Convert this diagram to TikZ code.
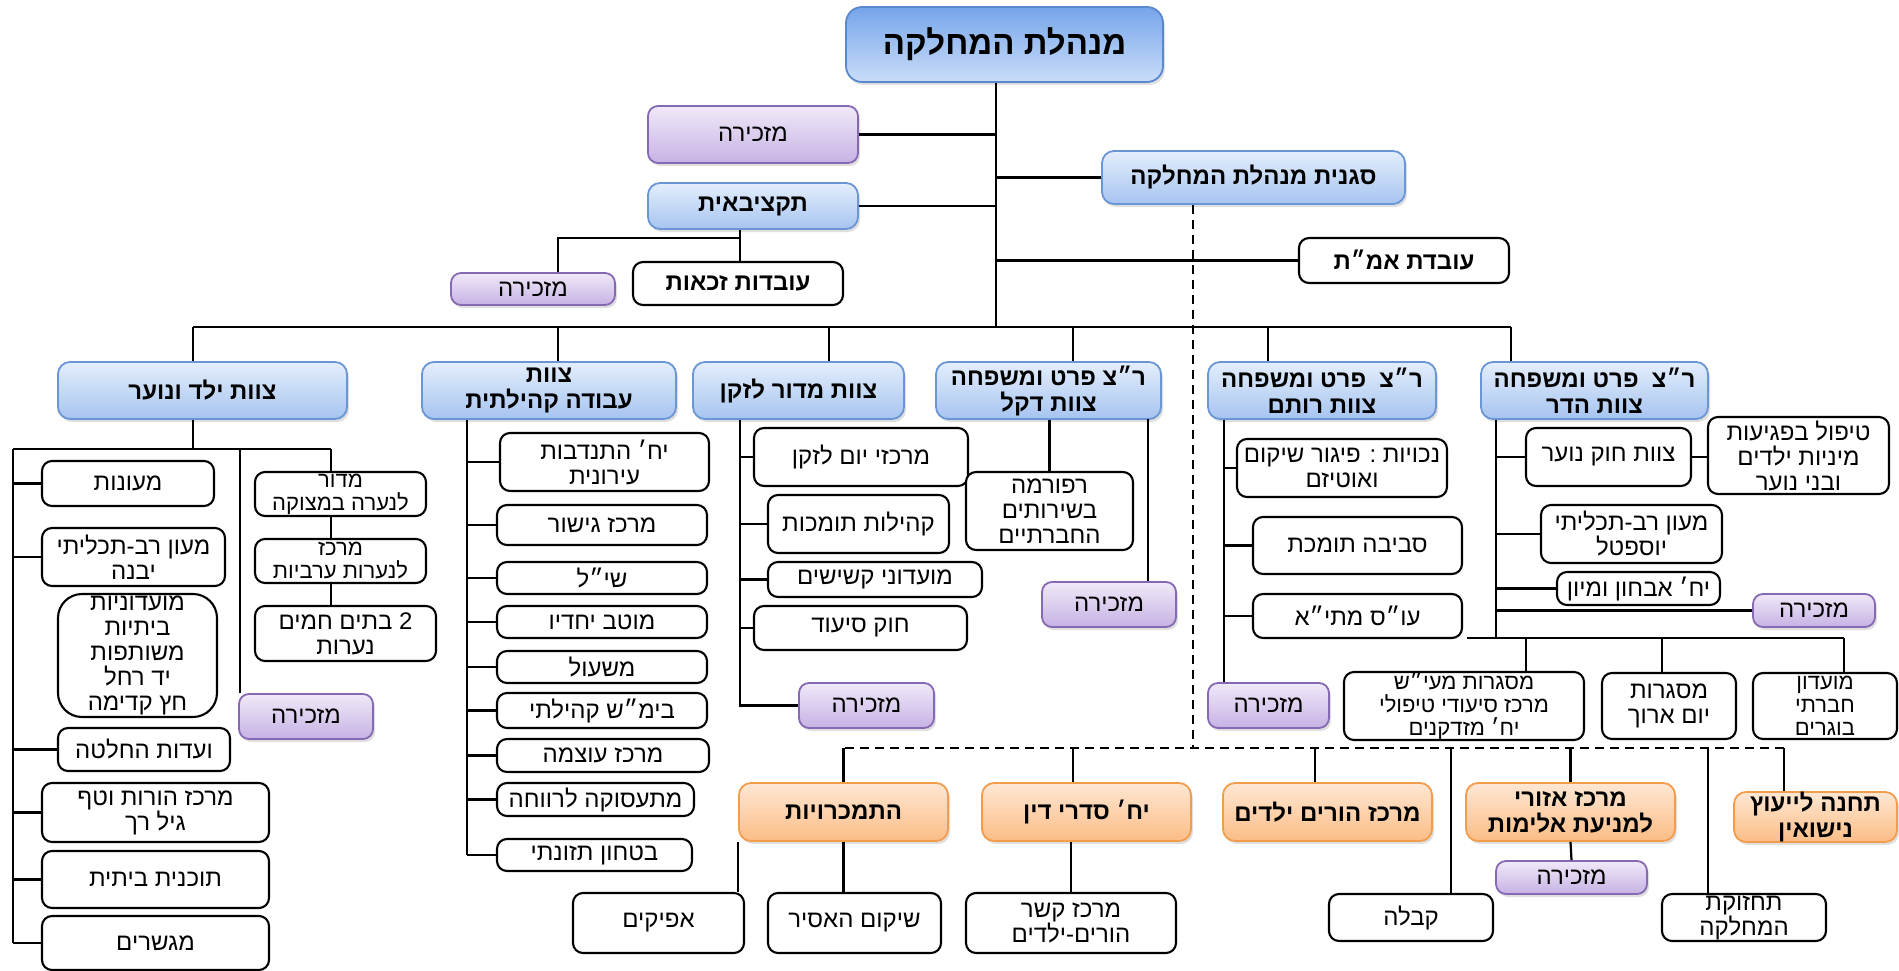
\documentclass[tikz,border=0pt]{standalone}
\usepackage{fontspec}
\setmainfont{Liberation Sans}[Script=Hebrew]
\TeXXeTstate=1
\usetikzlibrary{shadows}
\definecolor{topA}{HTML}{76A5EA}
\definecolor{topB}{HTML}{CADDF8}
\definecolor{topE}{HTML}{5A88CF}
\definecolor{bluA}{HTML}{E4EEFC}
\definecolor{bluB}{HTML}{A6C4F0}
\definecolor{bluE}{HTML}{6A96D6}
\definecolor{purA}{HTML}{F0E9F8}
\definecolor{purB}{HTML}{C6B2E4}
\definecolor{purE}{HTML}{8669B3}
\definecolor{orgA}{HTML}{FEE7D3}
\definecolor{orgB}{HTML}{FBBD86}
\definecolor{orgE}{HTML}{F29C4E}
\newcommand\heb[1]{\beginR #1\endR}
\newcommand\bx[7]{\node[#2, minimum width={#5-#3}, minimum height={#6-#4}] (#1) at ({(#3+#5)/2},{(#4+#6)/2}) {#7};}
\tikzset{
  basebox/.style={align=center, inner sep=0pt, font=\fontsize{24}{25}\selectfont},
  wbox/.style={basebox, draw=black, line width=2.1pt, rounded corners=10pt, fill=white},
  wboxb/.style={wbox, font=\fontsize{24}{25}\selectfont\bfseries},
  shad/.style={drop shadow={shadow xshift=2pt, shadow yshift=-3pt, opacity=0.25}},
  bbox/.style={basebox, shad, draw=bluE, line width=1.8pt, rounded corners=12pt, top color=bluA, bottom color=bluB, font=\fontsize{24}{26}\selectfont\bfseries},
  topbox/.style={bbox, draw=topE, top color=topA, bottom color=topB, rounded corners=16pt, font=\fontsize{33}{35}\selectfont\bfseries},
  pbox/.style={basebox, shad, draw=purE, line width=1.8pt, rounded corners=10pt, top color=purA, bottom color=purB},
  obox/.style={basebox, shad, draw=orgE, line width=1.8pt, rounded corners=12pt, top color=orgA, bottom color=orgB, font=\fontsize{24}{26}\selectfont\bfseries},
  conn/.style={draw=black, line width=2.2pt},
  dconn/.style={draw=black, line width=2.2pt, dash pattern=on 9pt off 6pt},
  tight/.style={font=\fontsize{22}{23}\selectfont}
}
\begin{document}
\begin{tikzpicture}[x=1pt,y=-1pt]
\fill[white] (0,0) rectangle (1899,971);
\useasboundingbox (0,0) rectangle (1899,971);
% junction coordinates
\coordinate (bus) at (996,327);
\coordinate (busL) at (193,327);
\coordinate (busR) at (1511,327);
\coordinate (d2) at (558,327);
\coordinate (d3) at (829,327);
\coordinate (d4) at (1073,327);
\coordinate (d5) at (1268,327);
\coordinate (bj) at (740,238);
\coordinate (bjL) at (558,238);
\coordinate (dl) at (845,748);
\coordinate (dr) at (1784,748);
\coordinate (dv) at (1193,748);
\coordinate (kj) at (193,449);
\coordinate (kL) at (13,449);
\coordinate (kM) at (240,449);
\coordinate (kR) at (331,449);
\coordinate (cs) at (467,419);
\coordinate (es) at (740,419);
\coordinate (dB) at (1148,419);
\coordinate (rs) at (1224,419);
\coordinate (hs) at (1496,419);
\coordinate (hL) at (1467,638);
\coordinate (hR) at (1844,638);
\coordinate (hb1) at (1526,638);
\coordinate (hb2) at (1662,638);
\coordinate (q2) at (1073,748);
\coordinate (q3) at (1315,748);
\coordinate (q4) at (1451,748);
\coordinate (q5) at (1708,748);

% ---------- nodes ----------
\bx{top}{topbox}{846}{7}{1163}{82}{\heb{מנהלת המחלקה}}
\bx{sec1}{pbox}{648}{106}{858}{163}{\heb{מזכירה}}
\bx{budget}{bbox}{648}{183}{858}{229}{\heb{תקציבאית}}
\bx{elig}{wboxb}{633}{262}{843}{305}{\heb{עובדות זכאות}}
\bx{sec2}{pbox}{451}{273}{615}{305}{\heb{מזכירה}}
\bx{deputy}{bbox}{1102}{151}{1405}{204}{\heb{סגנית מנהלת המחלקה}}
\bx{amat}{wboxb}{1299}{238}{1509}{283}{\heb{עובדת אמ״ת}}

\bx{kids}{bbox}{58}{362}{347}{419}{\heb{צוות ילד ונוער}}
\bx{comm}{bbox}{422}{362}{676}{419}{\heb{צוות}\\\heb{עבודה קהילתית}}
\bx{elder}{bbox}{693}{362}{904}{419}{\heb{צוות מדור לזקן}}
\bx{dekel}{bbox}{936}{362}{1161}{419}{\heb{ר״צ פרט ומשפחה}\\\heb{צוות דקל}}
\bx{rotem}{bbox}{1208}{362}{1436}{419}{\heb{ר״צ~~פרט ומשפחה}\\\heb{צוות רותם}}
\bx{hadar}{bbox}{1481}{362}{1708}{419}{\heb{ר״צ~~פרט ומשפחה}\\\heb{צוות הדר}}

% child & youth
\bx{k1}{wbox}{42}{461}{214}{506}{\heb{מעונות}}
\bx{k2}{wbox}{42}{528}{225}{586}{\heb{מעון רב-תכליתי}\\\heb{יבנה}}
\bx{k3}{wbox,rounded corners=24pt}{58}{594}{217}{717}{\heb{מועדוניות}\\\heb{ביתיות}\\\heb{משותפות}\\\heb{יד רחל}\\\heb{חץ קדימה}}
\bx{k4}{wbox}{58}{728}{230}{771}{\heb{ועדות החלטה}}
\bx{k5}{wbox}{42}{783}{269}{842}{\heb{מרכז הורות וטף}\\\heb{גיל רך}}
\bx{k6}{wbox}{42}{851}{269}{908}{\heb{תוכנית ביתית}}
\bx{k7}{wbox}{42}{916}{269}{970}{\heb{מגשרים}}
\bx{m1}{wbox,tight}{255}{472}{426}{516}{\heb{מדור}\\\heb{לנערה במצוקה}}
\bx{m2}{wbox,tight}{255}{539}{426}{583}{\heb{מרכז}\\\heb{לנערות ערביות}}
\bx{m3}{wbox}{255}{606}{436}{661}{\heb{2 בתים חמים}\\\heb{נערות}}
\bx{ksec}{pbox}{239}{694}{373}{739}{\heb{מזכירה}}

% community work
\bx{c1}{wbox}{500}{433}{709}{491}{\heb{יח׳ התנדבות}\\\heb{עירונית}}
\bx{c2}{wbox}{497}{505}{707}{545}{\heb{מרכז גישור}}
\bx{c3}{wbox}{497}{562}{707}{594}{\heb{שי״ל}}
\bx{c4}{wbox}{497}{606}{707}{638}{\heb{מוטב יחדיו}}
\bx{c5}{wbox}{497}{651}{707}{683}{\heb{משעול}}
\bx{c6}{wbox}{497}{693}{707}{728}{\heb{בימ״ש קהילתי}}
\bx{c7}{wbox}{497}{739}{709}{772}{\heb{מרכז עוצמה}}
\bx{c8}{wbox}{497}{783}{694}{816}{\heb{מתעסוקה לרווחה}}
\bx{c9}{wbox}{497}{839}{692}{871}{\heb{בטחון תזונתי}}

% elderly
\bx{e1}{wbox}{754}{428}{968}{486}{\heb{מרכזי יום לזקן}}
\bx{e2}{wbox}{768}{495}{949}{553}{\heb{קהילות תומכות}}
\bx{e3}{wbox}{768}{562}{982}{597}{\heb{מועדוני קשישים}}
\bx{e4}{wbox}{754}{606}{967}{650}{\heb{חוק סיעוד}}
\bx{esec}{pbox}{799}{683}{934}{728}{\heb{מזכירה}}

% dekel
\bx{ref}{wbox}{966}{472}{1133}{550}{\heb{רפורמה}\\\heb{בשירותים}\\\heb{החברתיים}}
\bx{dsec}{pbox}{1042}{582}{1176}{627}{\heb{מזכירה}}

% rotem
\bx{r1}{wbox}{1237}{439}{1447}{497}{\heb{נכויות : פיגור שיקום}\\\heb{ואוטיזם}}
\bx{r2}{wbox}{1253}{517}{1462}{574}{\heb{סביבה תומכת}}
\bx{r3}{wbox}{1253}{594}{1462}{638}{\heb{עו״ס מתי״א}}
\bx{rsec}{pbox}{1208}{683}{1329}{728}{\heb{מזכירה}}

% hadar
\bx{h1}{wbox}{1526}{428}{1691}{486}{\heb{צוות חוק נוער}}
\bx{h1b}{wbox}{1708}{417}{1889}{494}{\heb{טיפול בפגיעות}\\\heb{מיניות ילדים}\\\heb{ובני נוער}}
\bx{h2}{wbox}{1541}{505}{1722}{563}{\heb{מעון רב-תכליתי}\\\heb{יוספטל}}
\bx{h3}{wbox}{1557}{572}{1720}{605}{\heb{יח׳ אבחון ומיון}}
\bx{hsec}{pbox}{1753}{594}{1875}{627}{\heb{מזכירה}}
\bx{b1}{wbox,tight}{1344}{673}{1584}{739}{\heb{מסגרות מעי״ש}\\\heb{מרכז סיעודי טיפולי}\\\heb{יח׳ מזדקנים}}
\bx{b2}{wbox}{1602}{673}{1736}{739}{\heb{מסגרות}\\\heb{יום ארוך}}
\bx{b3}{wbox,tight}{1753}{673}{1897}{739}{\heb{מועדון}\\\heb{חברתי}\\\heb{בוגרים}}

% bottom units
\bx{o1}{obox}{739}{783}{948}{841}{\heb{התמכרויות}}
\bx{o2}{obox}{982}{783}{1191}{841}{\heb{יח׳ סדרי דין}}
\bx{o3}{obox}{1223}{783}{1432}{841}{\heb{מרכז הורים ילדים}}
\bx{o4}{obox}{1466}{783}{1675}{841}{\heb{מרכז אזורי}\\\heb{למניעת אלימות}}
\bx{o5}{obox}{1734}{793}{1897}{841}{\heb{תחנה לייעוץ}\\\heb{נישואין}}
\bx{a1}{wbox}{573}{893}{744}{953}{\heb{אפיקים}}
\bx{a2}{wbox}{768}{893}{941}{953}{\heb{שיקום האסיר}}
\bx{a3}{wbox}{966}{893}{1176}{953}{\heb{מרכז קשר}\\\heb{הורים-ילדים}}
\bx{osec}{pbox}{1496}{861}{1647}{894}{\heb{מזכירה}}
\bx{a4}{wbox}{1329}{894}{1493}{941}{\heb{קבלה}}
\bx{a5}{wbox}{1662}{894}{1826}{941}{\heb{תחזוקת}\\\heb{המחלקה}}

% ---------- connectors ----------
\draw[conn] (top.south -| bus) -- (bus);
\draw[conn] (sec1.east) -- (sec1.east -| bus);
\draw[conn] (budget.east) -- (budget.east -| bus);
\draw[conn] (deputy.west) -- (deputy.west -| bus);
\draw[conn] (amat.west) -- (amat.west -| bus);
\draw[conn] (budget.south -| bj) -- (bj) -- (elig.north -| bj);
\draw[conn] (bj) -- (bjL) -- (bjL |- sec2.north);
\draw[dconn] (deputy.south -| dv) -- (dv);
\draw[dconn] (dl) -- (dr);
% level 2 bus
\draw[conn] (busL) -- (busR);
\draw[conn] (busL) -- (busL |- kids.north);
\draw[conn] (d2) -- (d2 |- comm.north);
\draw[conn] (d3) -- (d3 |- elder.north);
\draw[conn] (d4) -- (d4 |- dekel.north);
\draw[conn] (d5) -- (d5 |- rotem.north);
\draw[conn] (busR) -- (busR |- hadar.north);
% kids
\draw[conn] (kids.south -| kj) -- (kj);
\draw[conn] (kL) -- (kR);
\draw[conn] (kL) -- (kL |- k7.west);
\foreach \n in {k1,k2,k4,k5,k6,k7} \draw[conn] (\n.west -| kL) -- (\n.west);
\draw[conn] (kM) -- (kM |- ksec.north);
\draw[conn] (kR) -- (kR |- m1.north);
\draw[conn] (m1.south -| kR) -- (m2.north -| kR);
\draw[conn] (m2.south -| kR) -- (m3.north -| kR);
% community
\draw[conn] (comm.south -| cs) -- (cs |- c9.west);
\foreach \n in {c1,c2,c3,c4,c5,c6,c7,c8,c9} \draw[conn] (\n.west -| cs) -- (\n.west);
% elderly
\draw[conn] (elder.south -| es) -- (es |- esec.west) -- (esec.west);
\foreach \n in {e1,e2,e3,e4} \draw[conn] (\n.west -| es) -- (\n.west);
% dekel
\draw[conn] (ref.north |- dekel.south) -- (ref.north);
\draw[conn] (dB) -- (dB |- dsec.north);
% rotem
\draw[conn] (rotem.south -| rs) -- (rs |- rsec.north);
\foreach \n in {r1,r2,r3} \draw[conn] (\n.west -| rs) -- (\n.west);
% hadar
\draw[conn] (hadar.south -| hs) -- (hs |- hL);
\draw[conn] (hL) -- (hR);
\foreach \n in {h1,h2,h3,hsec} \draw[conn] (\n.west -| hs) -- (\n.west);
\draw[conn] (h1.east) -- (h1.east -| h1b.west);
\draw[conn] (hb1) -- (hb1 |- b1.north);
\draw[conn] (hb2) -- (hb2 |- b2.north);
\draw[conn] (hR) -- (hR |- b3.north);
% bottom
\draw[conn] (o1.north |- dl) -- (o1.north);
\draw[conn] (q2) -- (q2 |- o2.north);
\draw[conn] (q3) -- (q3 |- o3.north);
\draw[conn] (o4.north |- dl) -- (o4.north);
\draw[conn] (dr) -- (dr |- o5.north);
\draw[conn] (q4) -- (q4 |- a4.north);
\draw[conn] (q5) -- (q5 |- a5.north);
\draw[conn] (o1.south west) -- (o1.south west |- a1.north);
\draw[conn] (o1.south) -- (o1.south |- a2.north);
\draw[conn] (a3.north |- o2.south) -- (a3.north);
\draw[conn] (o4.south) -- (osec.north);
\end{tikzpicture}
\end{document}
